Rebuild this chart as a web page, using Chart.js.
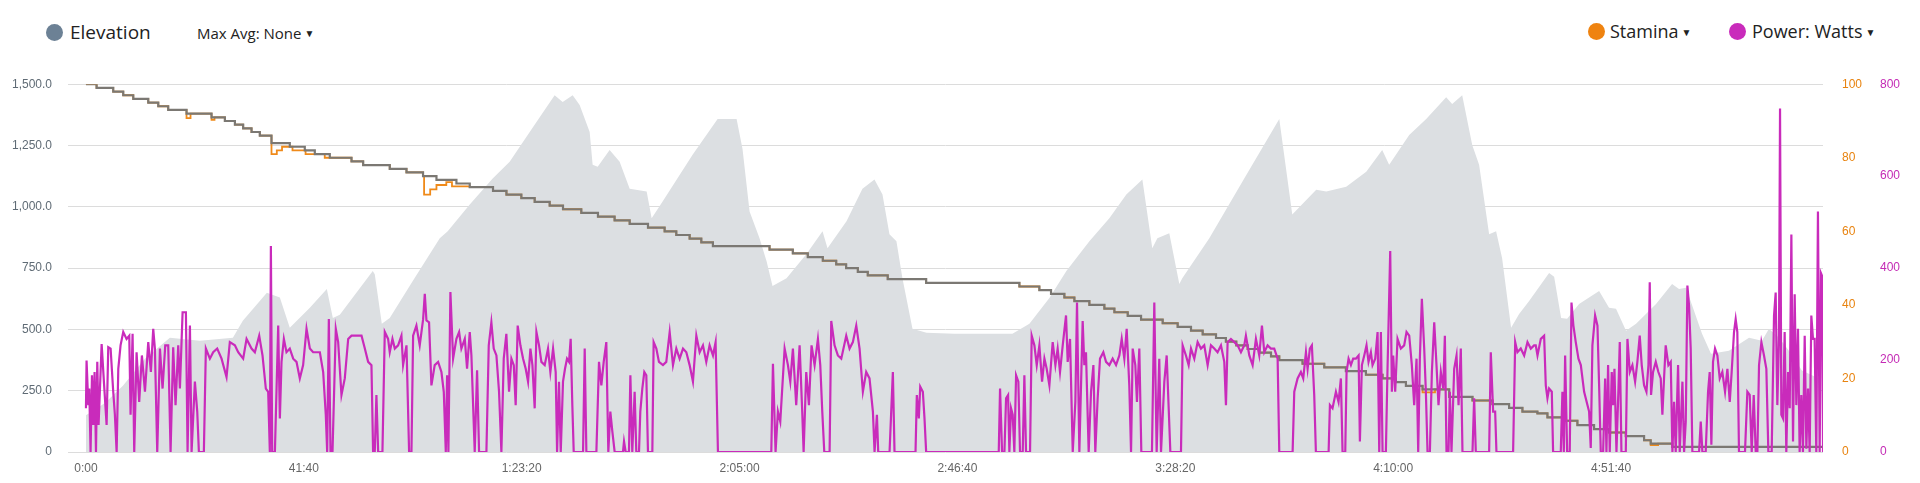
<!DOCTYPE html>
<html>
<head>
<meta charset="utf-8">
<script src="https://cdn.jsdelivr.net/npm/chart.js@4.4.1/dist/chart.umd.min.js"></script>
<style>
  body { margin: 0; background: #fff; font-family: "Open Sans", sans-serif; color: #222; }
  #page { position: relative; width: 1920px; height: 483px; overflow: hidden; }
  .dot { position: absolute; width: 17px; height: 17px; border-radius: 50%; }
  .label { position: absolute; white-space: nowrap; line-height: 1; }
  .caret { font-size: 10px; margin-left: 3px; vertical-align: 2px; }
  #chartBox { position: absolute; left: 0; top: 58px; width: 1920px; height: 425px; }
</style>
</head>
<body>
<div id="page">
  <span class="dot" style="left:46px; top:24px; background:#6c8195"></span>
  <span class="label" style="left:70px; top:23px; font-size:19px">Elevation</span>
  <span class="label" style="left:197px; top:26px; font-size:15px">Max Avg: None<span class="caret">▼</span></span>

  <span class="dot" style="left:1588px; top:23px; background:#ef8310"></span>
  <span class="label" style="left:1610px; top:22px; font-size:18px">Stamina<span class="caret">▼</span></span>
  <span class="dot" style="left:1729px; top:23px; background:#c92bbb"></span>
  <span class="label" style="left:1752px; top:22px; font-size:18px">Power: Watts<span class="caret">▼</span></span>

  <div id="chartBox"><canvas id="chart"></canvas></div>
</div>
<script>
// elevation profile (seconds, metres)
const elevTimes = [0, 218, 424, 677, 963, 1307, 1686, 1800, 2076, 2225, 2339, 2569, 2764, 2833, 2913, 3291, 3314, 3395, 3486, 3750,
  4060, 4151, 4404, 4667, 4862, 5092, 5378, 5470, 5585, 5665, 5780, 5814, 5872, 6009, 6124, 6239, 6434, 6491, 6617, 6961,
  7248, 7466, 7534, 7615, 7729, 7810, 7878, 8039, 8268, 8452, 8509, 8727, 8910, 9048, 9140, 9220, 9300, 9369, 9484, 9645,
  9966, 10631, 10826, 11055, 11250, 11514, 11743, 11938, 12122, 12236, 12294, 12431, 12546, 12580, 12890, 13291, 13693, 13842, 14117, 14232,
  14461, 14691, 14874, 14954, 15184, 15379, 15608, 15677, 15792, 15907, 15986, 16101, 16181, 16250, 16353, 16445, 16560, 16789, 16847, 16927,
  16996, 17133, 17363, 17477, 17557, 17672, 17787, 18016, 18200, 18280, 18360, 18544, 18647, 18853, 19083, 19232, 19312, 19427, 19541, 19690,
  19885]
const elevValues = [150, 200, 270, 380, 466, 454, 466, 535, 649, 630, 507, 588, 665, 547, 560, 738, 725, 523, 547, 697,
  872, 900, 1009, 1115, 1184, 1305, 1455, 1427, 1455, 1415, 1305, 1171, 1163, 1232, 1184, 1074, 1062, 953, 1022, 1212,
  1358, 1358, 1236, 981, 872, 778, 677, 709, 807, 900, 831, 941, 1074, 1111, 1050, 888, 859, 709, 503, 486,
  482, 482, 523, 628, 738, 859, 953, 1050, 1111, 831, 872, 892, 685, 709, 872, 1115, 1358, 969, 1070, 1062,
  1082, 1143, 1232, 1171, 1293, 1358, 1447, 1419, 1455, 1252, 1171, 888, 900, 790, 507, 563, 616, 730, 715, 547,
  543, 604, 657, 588, 584, 495, 523, 604, 685, 665, 670, 482, 401, 413, 466, 454, 503, 466, 413, 332,
  300]

// grey stamina steps (seconds where each level starts, level)
const baseStepTimes = [0, 122, 313, 428, 543, 715, 830, 944, 1154, 1441, 1594, 1709, 1804, 1900, 1995, 2129, 2339, 2511, 2626, 2798,
  3047, 3181, 3486, 3678, 3868, 4022, 4251, 4404, 4671, 4825, 4996, 5149, 5321, 5474, 5684, 5875, 6066, 6239, 6449, 6640,
  6774, 6927, 7061, 7194, 7844, 8111, 8283, 8455, 8609, 8723, 8857, 8971, 9200, 9641, 10711, 10940, 11074, 11227, 11342, 11514,
  11686, 11801, 11954, 12107, 12355, 12527, 12680, 12814, 12967, 13080, 13200, 13330, 13464, 13598, 13693, 13960, 14209, 14457, 14687, 14878,
  15031, 15146, 15337, 15643, 15910, 16139, 16330, 16483, 16655, 16770, 16942, 17114, 17305, 17477, 17669, 17879, 17955, 18203, 19932]
const baseStepValues = [100, 99, 98, 97, 96, 95, 94, 93, 92, 91, 90, 89, 88, 87, 86, 84, 83, 82, 81, 80,
  79, 78, 77, 76, 75, 74, 73, 72, 71, 70, 69, 68, 67, 66, 65, 64, 63, 62, 61, 60,
  59, 58, 57, 56, 55, 54, 53, 52, 51, 50, 49, 48, 47, 46, 45, 44, 43, 42, 41, 40,
  39, 38, 37, 36, 35, 34, 33, 32, 31, 30, 29, 28, 27, 26, 25, 24, 23, 22, 21, 20,
  19, 18, 17, 15, 14, 13, 12, 11, 10.5, 9.4, 8.5, 7.3, 6.2, 5.3, 4.3, 3.2, 2.3, 1.4, 1.4]

// where the orange stamina line leaves the grey one
const dipTimes = [1154, 1200, 1441, 1475, 2129, 2190, 2250, 2370, 2520, 2740, 3880, 3950, 4022, 4135, 4200, 4251, 15337, 15480, 17955, 18040]
const dipValues = [90.8, 92, 90.3, 91, 81, 82, 83, 82, 81, 80, 70, 71.4, 72.6, 73.4, 72.2, 72.2, 16.2, 17, 1.9, 2.3]

// power (seconds, watts)
const powerTimes = [
  0, 7, 27, 38, 53, 69, 84, 99, 115, 130, 145, 180, 206, 237, 256, 283, 313, 332, 352, 371,
  397, 428, 466, 497, 512, 535, 554, 581, 611, 642, 677, 715, 745, 772, 791, 818, 849, 879, 910, 944,
  971, 1001, 1028, 1059, 1078, 1109, 1147, 1166, 1193, 1212, 1250, 1277, 1296, 1353, 1376, 1422, 1460, 1506, 1556, 1613,
  1651, 1709, 1747, 1804, 1843, 1900, 1938, 1988, 2026, 2064, 2091, 2110, 2122, 2137, 2168, 2206, 2225, 2244, 2271, 2301,
  2339, 2378, 2416, 2454, 2492, 2531, 2569, 2607, 2645, 2684, 2722, 2752, 2768, 2787, 2806, 2829, 2867, 2894, 2932, 2970,
  3009, 3047, 3104, 3162, 3200, 3238, 3276, 3295,
  3314, 3333, 3353, 3402, 3429, 3467, 3486, 3517, 3544, 3582, 3620, 3639, 3678, 3708, 3735, 3754, 3792, 3830, 3869, 3888,
  3907, 3937, 3964, 4002, 4041, 4079, 4106, 4129, 4144, 4159, 4182, 4213, 4251, 4282, 4308, 4347, 4373, 4404, 4423, 4461,
  4488, 4511, 4595, 4622, 4652, 4679, 4710, 4740, 4767, 4794, 4824, 4855, 4882, 4909, 4931, 4954, 4985, 5016, 5046, 5073,
  5100, 5123, 5149, 5169, 5199, 5226, 5264, 5302, 5329, 5360, 5390, 5406, 5428, 5448, 5474, 5497, 5520, 5543, 5562, 5581,
  5597, 5704, 5723, 5742, 5857, 5887, 5914, 5941, 5971, 5994, 6017, 6040, 6067, 6162, 6174, 6193, 6231, 6247, 6269, 6296,
  6315, 6346, 6361, 6384, 6407, 6430, 6449, 6499, 6514, 6545, 6575, 6621,
  6659, 6698, 6736, 6774, 6812, 6851, 6889, 6927, 6965, 7004, 7042, 7080, 7118, 7156, 7195, 7225, 7252, 7864, 7883, 7913,
  7940, 7967, 8017, 8055, 8082, 8112, 8150, 8189, 8219, 8235, 8265, 8296, 8326, 8361, 8399, 8426, 8449, 8472, 8533, 8552,
  8590, 8628, 8667, 8724, 8762, 8800, 8839, 8877, 8915, 8953, 8991, 9030, 9049, 9076, 9091, 9221, 9240, 9259, 9278, 9519,
  9534, 9557, 9573, 9603, 9622, 9641, 10474,
  10489, 10512, 10539, 10558, 10581, 10596, 10615, 10634, 10653, 10673, 10699, 10718, 10749, 10768, 10787, 10833, 10852, 10883, 10910, 10940,
  10971, 10998, 11024, 11055, 11093, 11124, 11150, 11177, 11208, 11246, 11265, 11292, 11323, 11353, 11372, 11399, 11422, 11437, 11456, 11475,
  11506, 11533, 11560, 11582, 11609, 11636, 11674, 11705, 11743, 11781, 11820, 11858, 11885, 11915, 11942, 11972, 11992, 12011, 12041, 12060,
  12087, 12110, 12232, 12259, 12286, 12316, 12336, 12374, 12401, 12424, 12443, 12565, 12584, 12622, 12653, 12680, 12718, 12756, 12794, 12832,
  12871, 12909, 12947, 12985, 13024, 13062, 13081, 13100, 13138, 13177, 13215, 13253, 13291,
  13310, 13349, 13387, 13425, 13463, 13494, 13521, 13559, 13597, 13635, 13674, 13693, 13846, 13865, 13903, 13941, 13968, 13999, 14018, 14044,
  14067, 14094, 14113, 14259, 14274, 14304, 14343, 14373, 14400, 14419, 14450, 14465, 14488, 14515, 14541, 14572, 14603, 14618, 14641, 14668,
  14694, 14717, 14744, 14763, 14794, 14821, 14840, 14859, 14878, 14916, 14935, 14966, 14985, 15000, 15023, 15050, 15088, 15126, 15153, 15184,
  15214, 15241, 15268, 15287, 15306, 15329, 15356, 15375, 15394, 15421, 15444, 15471, 15497, 15520, 15547, 15574, 15593, 15612, 15635, 15650,
  15669, 15700, 15727, 15750, 15776, 15795, 15910, 15929, 15948, 16101, 16120, 16147, 16170, 16185, 16376, 16400, 16426, 16464, 16503, 16541,
  16579, 16617,
  16636, 16656, 16694, 16732, 16751, 16770, 16789, 16820, 16835, 16923, 16942, 16958, 16973, 16996, 17026, 17046, 17068, 17095, 17126, 17153,
  17191, 17229, 17248, 17267, 17286, 17317, 17344, 17363, 17382, 17409, 17432, 17447, 17466, 17485, 17508, 17523, 17539, 17562, 17585, 17600,
  17619, 17669, 17688, 17715, 17745, 17776, 17802, 17829, 17852, 17879, 17906, 17929, 17944, 17959, 17982, 18013, 18043, 18070, 18089, 18108,
  18127, 18158, 18185, 18204, 18223, 18242, 18269, 18288, 18319, 18338, 18357, 18376, 18395, 18414, 18433, 18510, 18529, 18548, 18586, 18613,
  18632, 18651, 18670, 18693, 18720, 18747, 18777, 18808, 18835, 18862, 18884, 18911, 18930, 18949, 18968, 19037, 19064, 19091, 19114, 19137,
  19160, 19179, 19198, 19225, 19255, 19282, 19305, 19343, 19370, 19389, 19408, 19427, 19439, 19454, 19473, 19492, 19511, 19531, 19550, 19569,
  19588, 19607, 19626, 19645, 19664, 19683, 19702, 19722, 19741, 19760, 19779, 19798, 19817, 19836, 19855, 19874, 19894, 19909, 19924, 19932
]
const powerWatts = [
  95, 199, 102, 138, 0, 167, 59, 174, 0, 196, 59, 235, 153, 59, 228, 225, 131, 81, 0, 181,
  232, 261, 246, 253, 81, 257, 0, 217, 109, 210, 131, 239, 174, 268, 225, 0, 225, 138, 232, 232,
  0, 228, 102, 232, 138, 304, 304, 0, 275, 0, 153, 88, 0, 0, 225, 203, 217, 225, 203, 163,
  239, 232, 217, 203, 246, 225, 217, 253, 210, 138, 131, 0, 448, 0, 0, 275, 73, 196, 246, 217,
  225, 203, 196, 160, 189, 268, 225, 217, 217, 217, 174, 81, 0, 289, 0, 0, 268, 239, 124, 160,
  246, 253, 253, 253, 225, 196, 189, 0,
  0, 124, 0, 0, 261, 246, 217, 246, 225, 232, 253, 189, 232, 0, 0, 253, 275, 232, 289, 344,
  286, 282, 145, 189, 196, 174, 131, 0, 167, 0, 348, 203, 246, 261, 225, 246, 181, 261, 210, 0,
  178, 0, 0, 232, 282, 225, 210, 131, 0, 203, 257, 131, 203, 189, 102, 275, 232, 203, 181, 153,
  225, 189, 95, 261, 232, 196, 189, 225, 174, 225, 174, 0, 153, 0, 153, 181, 203, 196, 246, 102,
  0, 0, 225, 0, 0, 196, 145, 196, 239, 0, 88, 45, 0, 0, 23, 0, 0, 167, 0, 131,
  0, 0, 88, 138, 174, 167, 0, 0, 239, 225, 196, 189,
  196, 261, 189, 225, 203, 225, 217, 189, 153, 253, 217, 232, 196, 232, 210, 239, 0, 0, 192, 0,
  88, 66, 225, 189, 153, 225, 102, 232, 88, 0, 174, 102, 232, 189, 246, 189, 88, 0, 0, 285,
  232, 210, 203, 253, 225, 239, 275, 225, 131, 174, 160, 88, 0, 81, 0, 0, 88, 174, 0, 0,
  124, 73, 142, 131, 73, 0, 0,
  138, 0, 0, 117, 124, 0, 95, 81, 0, 167, 153, 0, 0, 167, 0, 0, 253, 232, 189, 232,
  153, 203, 181, 145, 239, 189, 225, 174, 232, 297, 196, 246, 0, 109, 325, 0, 174, 285, 189, 217,
  0, 131, 189, 0, 117, 203, 217, 196, 189, 203, 189, 210, 246, 203, 268, 145, 0, 225, 189, 109,
  225, 0, 0, 325, 0, 203, 0, 153, 210, 95, 0, 0, 232, 210, 189, 225, 203, 239, 225, 232,
  189, 232, 225, 217, 232, 196, 102, 239, 246, 239, 232, 217, 232,
  253, 210, 189, 246, 210, 275, 217, 232, 225, 225, 203, 0, 0, 131, 160, 174, 160, 217, 181, 225,
  232, 124, 0, 0, 102, 95, 131, 109, 160, 0, 0, 174, 203, 189, 203, 203, 210, 23, 189, 210,
  232, 196, 217, 189, 203, 261, 0, 261, 0, 0, 181, 437, 131, 210, 131, 246, 225, 232, 261, 253,
  189, 102, 203, 0, 203, 333, 225, 131, 0, 0, 174, 282, 189, 102, 174, 138, 253, 0, 0, 131,
  0, 181, 210, 102, 225, 0, 0, 117, 0, 0, 217, 88, 88, 0, 0, 239, 217, 225, 210, 239,
  225, 232,
  232, 210, 246, 253, 145, 117, 138, 131, 0, 0, 131, 0, 210, 0, 0, 325, 275, 239, 203, 189,
  131, 102, 88, 9, 232, 297, 275, 145, 0, 0, 160, 0, 189, 0, 174, 102, 181, 0, 138, 239,
  0, 0, 246, 174, 189, 153, 196, 253, 189, 145, 131, 189, 369, 124, 174, 196, 174, 160, 81, 160,
  232, 189, 196, 0, 109, 0, 189, 0, 153, 0, 66, 362, 318, 225, 0, 0, 66, 0, 0, 131,
  174, 16, 196, 225, 210, 160, 174, 131, 181, 109, 174, 261, 289, 261, 0, 0, 131, 124, 0, 124,
  0, 0, 189, 239, 210, 181, 0, 0, 297, 347, 102, 246, 747, 81, 73, 261, 0, 174, 95, 473,
  23, 343, 102, 268, 0, 124, 0, 253, 7, 138, 0, 297, 246, 246, 0, 523, 0, 389, 382, 0
]

const xTicks = [0, 2500, 5000, 7500, 10000, 12500, 15000, 17500]

const pad2 = (n) => String(n).padStart(2, "0")
const clock = (s) => {
  const h = Math.floor(s / 3600)
  const m = Math.floor((s % 3600) / 60)
  const sec = Math.round(s % 60)
  return h > 0 ? `${h}:${pad2(m)}:${pad2(sec)}` : `${m}:${pad2(sec)}`
}

const toPoints = (times, values) => times.map((t, i) => ({ x: t, y: values[i] }))

// orange line = grey steps with the dips laid over them
const orangeMap = new Map()
baseStepTimes.forEach((t, i) => orangeMap.set(t, baseStepValues[i]))
dipTimes.forEach((t, i) => orangeMap.set(t, dipValues[i]))
const orangePoints = [...orangeMap.entries()].sort((a, b) => a[0] - b[0]).map(([x, y]) => ({ x, y }))

new Chart(document.getElementById("chart"), {
  type: "line",
  data: {
    datasets: [
      {
        data: toPoints(powerTimes, powerWatts),
        yAxisID: "power",
        borderColor: "#c92bbb",
        borderWidth: 2.2,
        pointRadius: 0,
        order: 1
      },
      {
        data: toPoints(baseStepTimes, baseStepValues),
        yAxisID: "stamina",
        stepped: "before",
        borderColor: "#7b7873",
        borderWidth: 2.2,
        pointRadius: 0,
        order: 2
      },
      {
        data: orangePoints,
        yAxisID: "stamina",
        stepped: "before",
        borderColor: "#ef8a1a",
        borderWidth: 1.8,
        pointRadius: 0,
        order: 3
      },
      {
        data: toPoints(elevTimes, elevValues),
        yAxisID: "y",
        fill: "origin",
        backgroundColor: "#dcdfe2",
        borderWidth: 0,
        pointRadius: 0,
        order: 4
      }
    ]
  },
  options: {
    responsive: true,
    maintainAspectRatio: false,
    animation: false,
    layout: { padding: { top: 0, left: 0, right: 0, bottom: 0 } },
    plugins: {
      legend: { display: false },
      tooltip: { enabled: false }
    },
    scales: {
      x: {
        type: "linear",
        min: -206,
        max: 19932,
        afterBuildTicks: (scale) => { scale.ticks = xTicks.map((v) => ({ value: v })) },
        afterFit: (scale) => { scale.height = 31 },
        ticks: {
          callback: (v) => clock(v),
          color: "#666",
          font: { family: "Liberation Sans", size: 12 },
          padding: 9,
          maxRotation: 0,
          autoSkip: false
        },
        grid: { display: false, drawTicks: false },
        border: { display: false }
      },
      y: {
        position: "left",
        min: 0,
        max: 1500,
        afterFit: (scale) => { scale.width = 68 },
        ticks: {
          stepSize: 250,
          callback: (v) => v === 0 ? "0" : v.toLocaleString("en-US", { minimumFractionDigits: 1, maximumFractionDigits: 1 }),
          color: "#5f6b75",
          font: { family: "Liberation Sans", size: 12 },
          padding: 16
        },
        grid: { color: "#dcdcdc", drawTicks: false },
        border: { display: false }
      },
      stamina: {
        position: "right",
        min: 0,
        max: 100,
        afterFit: (scale) => { scale.width = 45 },
        ticks: {
          stepSize: 20,
          color: "#e8830f",
          font: { family: "Liberation Sans", size: 12 },
          padding: 19
        },
        grid: { display: false, drawTicks: false },
        border: { display: false }
      },
      power: {
        position: "right",
        min: 0,
        max: 800,
        afterFit: (scale) => { scale.width = 52 },
        ticks: {
          stepSize: 200,
          color: "#c42bb5",
          font: { family: "Liberation Sans", size: 12 },
          padding: 12
        },
        grid: { display: false, drawTicks: false },
        border: { display: false }
      }
    }
  }
})
</script>
</body>
</html>
